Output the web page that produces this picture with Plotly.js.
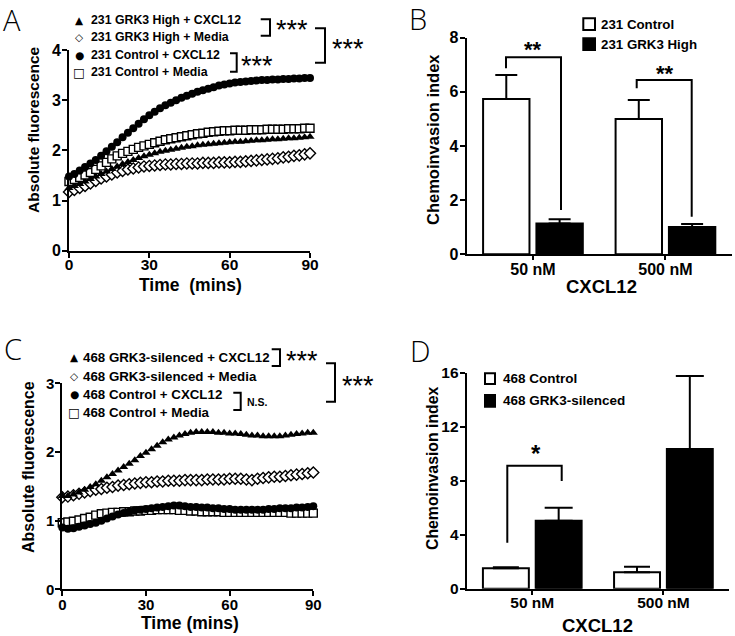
<!DOCTYPE html>
<html><head><meta charset="utf-8">
<script src="https://cdn.plot.ly/plotly-3.0.1.min.js"></script>
<style>html,body{margin:0;padding:0;background:#fff}#chart{width:735px;height:636px}</style>
</head><body><div id="chart"></div>
<script>
// ---------- DATA ----------
const timeMins = [0,2,4,6,8,10,12,14,16,18,20,22,24,26,28,30,32,34,36,38,40,42,44,46,48,50,52,54,56,58,60,62,64,66,68,70,72,74,76,78,80,82,84,86,88,90];

// Panel A (231 cells)
const a231GrkCxcl = [1.25,1.29,1.33,1.38,1.43,1.48,1.53,1.58,1.63,1.68,1.73,1.77,1.81,1.85,1.88,1.91,1.94,1.97,1.99,2.01,2.03,2.05,2.07,2.08,2.10,2.11,2.12,2.13,2.14,2.15,2.16,2.17,2.17,2.18,2.19,2.20,2.20,2.21,2.22,2.22,2.23,2.24,2.24,2.25,2.26,2.27];
const a231GrkMedia = [1.17,1.21,1.25,1.29,1.34,1.39,1.44,1.48,1.52,1.56,1.59,1.62,1.64,1.66,1.68,1.69,1.70,1.71,1.72,1.72,1.73,1.73,1.74,1.74,1.74,1.75,1.75,1.75,1.76,1.76,1.76,1.77,1.77,1.78,1.79,1.80,1.81,1.82,1.83,1.84,1.86,1.87,1.89,1.90,1.92,1.94];
const a231CtrlCxcl = [1.48,1.53,1.60,1.67,1.74,1.81,1.89,1.98,2.07,2.16,2.26,2.35,2.44,2.53,2.62,2.70,2.77,2.84,2.90,2.95,3.00,3.05,3.09,3.13,3.17,3.20,3.23,3.26,3.29,3.31,3.33,3.35,3.36,3.37,3.38,3.39,3.40,3.40,3.41,3.41,3.42,3.42,3.43,3.43,3.44,3.44];
const a231CtrlMedia = [1.38,1.42,1.46,1.51,1.56,1.62,1.69,1.76,1.83,1.89,1.94,1.98,2.02,2.06,2.09,2.12,2.15,2.18,2.21,2.23,2.25,2.27,2.29,2.31,2.33,2.34,2.36,2.37,2.38,2.39,2.39,2.40,2.40,2.40,2.41,2.41,2.41,2.42,2.42,2.42,2.42,2.43,2.43,2.43,2.44,2.44];

// Panel C (468 cells)
const c468SilCxcl = [1.36,1.36,1.38,1.41,1.45,1.49,1.53,1.58,1.63,1.68,1.73,1.78,1.83,1.88,1.94,1.99,2.04,2.09,2.14,2.18,2.21,2.24,2.26,2.28,2.29,2.29,2.29,2.29,2.28,2.28,2.27,2.27,2.26,2.25,2.24,2.24,2.23,2.23,2.23,2.23,2.24,2.25,2.26,2.27,2.28,2.28];
const c468SilMedia = [1.34,1.35,1.37,1.39,1.41,1.43,1.45,1.46,1.48,1.49,1.51,1.52,1.53,1.54,1.55,1.56,1.56,1.57,1.57,1.58,1.58,1.58,1.59,1.59,1.59,1.59,1.60,1.60,1.60,1.60,1.61,1.61,1.61,1.60,1.59,1.61,1.62,1.63,1.64,1.64,1.65,1.66,1.67,1.68,1.69,1.70];
const c468CtrlCxcl = [0.90,0.88,0.89,0.91,0.93,0.95,0.97,1.00,1.03,1.06,1.09,1.11,1.13,1.15,1.16,1.17,1.18,1.19,1.20,1.21,1.22,1.22,1.21,1.20,1.20,1.19,1.19,1.18,1.18,1.17,1.17,1.16,1.16,1.16,1.16,1.16,1.16,1.17,1.17,1.18,1.18,1.18,1.19,1.19,1.20,1.21];
const c468CtrlMedia = [0.97,0.98,0.99,1.01,1.03,1.05,1.08,1.10,1.11,1.12,1.12,1.13,1.13,1.14,1.14,1.15,1.15,1.16,1.16,1.16,1.16,1.15,1.15,1.14,1.14,1.13,1.13,1.13,1.13,1.12,1.12,1.12,1.12,1.12,1.12,1.12,1.12,1.12,1.12,1.12,1.12,1.11,1.11,1.11,1.11,1.11];

// Panels B and D (bars)
const doseLabels = ['50 nM', '500 nM'];
const b231Control = [5.74, 5.00];
const b231ControlErr = [0.88, 0.70];
const b231GrkHigh = [1.14, 1.01];
const b231GrkHighErr = [0.15, 0.11];
const d468Control = [1.51, 1.21];
const d468ControlErr = [0.07, 0.42];
const d468Silenced = [5.04, 10.35];
const d468SilencedErr = [0.96, 5.40];

// Tick labels
const timeTicks = [0, 30, 60, 90];

// ---------- HELPERS ----------
const W = 735, H = 636;
const fx = p => p / W;
const fy = p => 1 - p / H;
const FONT = 'Liberation Sans, Arial, Helvetica, sans-serif';
const SYM = 'DejaVu Sans, sans-serif';
const BLACK = '#000';

function line(x, y, opts) {
  return Object.assign({type: 'scatter', mode: 'markers', x: x, y: y, cliponaxis: false,
    showlegend: false, hoverinfo: 'skip'}, opts);
}
const mTri = {symbol: 'triangle-up', size: 8, color: BLACK, line: {width: 0}};
const mDia = {symbol: 'diamond', size: 8.5, color: '#fff', line: {color: BLACK, width: 1.4}};
const mCir = {symbol: 'circle', size: 8, color: BLACK, line: {width: 0}};
const mSq  = {symbol: 'square', size: 8, color: '#fff', line: {color: BLACK, width: 1.4}};

function errBar(arr, w) {
  return {type: 'data', array: arr, arrayminus: arr.map(() => 0), symmetric: false,
    color: BLACK, thickness: 2, width: w, visible: true};
}

const traces = [
  // Panel A
  line(timeMins, a231GrkMedia, {name: '231 GRK3 High + Media', marker: mDia, xaxis: 'x', yaxis: 'y'}),
  line(timeMins, a231GrkCxcl, {name: '231 GRK3 High + CXCL12', marker: mTri, xaxis: 'x', yaxis: 'y'}),
  line(timeMins, a231CtrlMedia, {name: '231 Control + Media', marker: mSq, xaxis: 'x', yaxis: 'y'}),
  line(timeMins, a231CtrlCxcl, {name: '231 Control + CXCL12', marker: mCir, xaxis: 'x', yaxis: 'y'}),
  // Panel C
  line(timeMins, c468SilMedia, {name: '468 GRK3-silenced + Media', marker: mDia, xaxis: 'x3', yaxis: 'y3'}),
  line(timeMins, c468SilCxcl, {name: '468 GRK3-silenced + CXCL12', marker: mTri, xaxis: 'x3', yaxis: 'y3'}),
  line(timeMins, c468CtrlMedia, {name: '468 Control + Media', marker: mSq, xaxis: 'x3', yaxis: 'y3'}),
  line(timeMins, c468CtrlCxcl, {name: '468 Control + CXCL12', marker: mCir, xaxis: 'x3', yaxis: 'y3'}),
  // Panel B
  {type: 'bar', name: '231 Control', x: doseLabels, y: b231Control, xaxis: 'x2', yaxis: 'y2',
   marker: {color: '#fff', line: {color: BLACK, width: 2}}, error_y: errBar(b231ControlErr, 11),
   showlegend: false, hoverinfo: 'skip', cliponaxis: false},
  {type: 'bar', name: '231 GRK3 High', x: doseLabels, y: b231GrkHigh, xaxis: 'x2', yaxis: 'y2',
   marker: {color: BLACK, line: {color: BLACK, width: 2}}, error_y: errBar(b231GrkHighErr, 11),
   showlegend: false, hoverinfo: 'skip', cliponaxis: false},
  // Panel D
  {type: 'bar', name: '468 Control', x: doseLabels, y: d468Control, xaxis: 'x4', yaxis: 'y4',
   marker: {color: '#fff', line: {color: BLACK, width: 2}}, error_y: errBar(d468ControlErr, 13),
   showlegend: false, hoverinfo: 'skip', cliponaxis: false},
  {type: 'bar', name: '468 GRK3-silenced', x: doseLabels, y: d468Silenced, xaxis: 'x4', yaxis: 'y4',
   marker: {color: BLACK, line: {color: BLACK, width: 2}}, error_y: errBar(d468SilencedErr, 14),
   showlegend: false, hoverinfo: 'skip', cliponaxis: false}
];

function axis(domain, anchor, extra, fs) {
  return Object.assign({domain: domain, anchor: anchor, showline: true, linewidth: 2, linecolor: BLACK,
    ticks: 'outside', ticklen: 5, tickwidth: 2, tickcolor: BLACK, showgrid: false, zeroline: false,
    fixedrange: true, tickfont: {family: FONT, size: fs, color: BLACK, weight: 'bold'}}, extra);
}

const layout = {
  width: W, height: H, margin: {l: 0, r: 0, t: 0, b: 0}, showlegend: false,
  paper_bgcolor: '#fff', plot_bgcolor: 'rgba(0,0,0,0)',
  barmode: 'group', bargap: 0.195, bargroupgap: 0.13,
  font: {family: FONT, color: BLACK},
  xaxis:  axis([fx(69), fx(310)], 'y', {range: [0, 90], tickvals: timeTicks, ticklabelstandoff: -6}, 15.5),
  yaxis:  axis([fy(250.7), fy(50)], 'x', {range: [0, 4], dtick: 1, ticklabelstandoff: -2}, 16),
  xaxis2: axis([fx(466.7), fx(731.7)], 'y2', {type: 'category', range: [-0.5, 1.5], ticklen: 4, ticklabelstandoff: -5}, 16),
  yaxis2: axis([fy(254.3), fy(37.7)], 'x2', {range: [0, 8], dtick: 2, ticklabelstandoff: -2}, 16),
  xaxis3: axis([fx(62.3), fx(313.3)], 'y3', {range: [0, 90], tickvals: timeTicks, ticklabelstandoff: -4}, 15),
  yaxis3: axis([fy(589.3), fy(383.3)], 'x3', {range: [0, 3], dtick: 1, ticklabelstandoff: -2}, 15),
  xaxis4: axis([fx(466.7), fx(729)], 'y4', {type: 'category', range: [-0.5, 1.5], ticklen: 4, ticklabelstandoff: -5}, 15.5),
  yaxis4: axis([fy(588.7), fy(372.7)], 'x4', {range: [0, 16], dtick: 4, ticklabelstandoff: -2}, 15.5),
  shapes: [],
  annotations: []
};

function ann(text, x, y, size, extra) {
  layout.annotations.push(Object.assign({xref: 'paper', yref: 'paper', x: fx(x), y: fy(y), text: text,
    showarrow: false, xanchor: 'center', yanchor: 'middle',
    font: {family: FONT, size: size, color: BLACK, weight: 'bold'}}, extra || {}));
}
function pathShape(d) {
  layout.shapes.push({type: 'path', xref: 'paper', yref: 'paper', path: d,
    line: {color: BLACK, width: 2}, fillcolor: 'rgba(0,0,0,0)'});
}
function P(x, y) { return fx(x) + ',' + fy(y); }
// right-facing bracket "]"
function bracketR(x0, x1, yTop, yBot) {
  pathShape('M' + P(x0, yTop) + ' L' + P(x1, yTop) + ' L' + P(x1, yBot) + ' L' + P(x0, yBot));
}
// over-bar bracket
function bracketTop(xL, yLb, yTop, xR, yRb) {
  pathShape('M' + P(xL, yLb) + ' L' + P(xL, yTop) + ' L' + P(xR, yTop) + ' L' + P(xR, yRb));
}
function swatch(x0, y0, x1, y1, fill) {
  layout.shapes.push({type: 'rect', xref: 'paper', yref: 'paper', x0: fx(x0), x1: fx(x1), y0: fy(y1), y1: fy(y0),
    line: {color: BLACK, width: 2}, fillcolor: fill});
}

// Panel letters
const letterFont = {family: 'Open Sans, DejaVu Sans, sans-serif', size: 29, color: BLACK, weight: 300};
ann('A', 11.7, 20, 29, {font: letterFont});
ann('B', 418.3, 18.3, 29, {font: letterFont});
ann('C', 13.3, 348, 29, {font: letterFont});
ann('D', 419.5, 350.8, 29, {font: letterFont});

// Axis titles
ann('Absolute fluorescence', 33, 130, 15.5, {textangle: -90});
ann('Time  (mins)', 190, 284.5, 17.5);
ann('Chemoinvasion index', 433, 140, 16.5, {textangle: -90});
ann('CXCL12', 601.7, 286, 18.5);
ann('Absolute fluorescence', 28.3, 466.7, 16, {textangle: -90});
ann('Time (mins)', 190, 623, 17.5);
ann('Chemoinvasion index', 432, 469, 15.8, {textangle: -90});
ann('CXCL12', 597, 625.5, 18.5);

// Legend A
const legA = [['▲', '231 GRK3 High + CXCL12', 20], ['◇', '231 GRK3 High + Media', 37.3],
              ['●', '231 Control + CXCL12', 55], ['□', '231 Control + Media', 72.5]];
legA.forEach(([g, t, y]) => {
  ann(g, 79.3, y, 10, {font: {family: SYM, size: g === '□' ? 12.5 : 10.5, color: BLACK}});
  ann(t, 89.3, y, 12.3, {xanchor: 'left'});
});
// Legend C
const legC = [['▲', '468 GRK3-silenced + CXCL12', 357.3], ['◇', '468 GRK3-silenced + Media', 376],
              ['●', '468 Control + CXCL12', 394], ['□', '468 Control + Media', 412.3]];
legC.forEach(([g, t, y]) => {
  ann(g, 74.2, y, 10, {font: {family: SYM, size: g === '□' ? 12.5 : 10.5, color: BLACK}});
  ann(t, 80.7, y, 13.3, {xanchor: 'left'});
});
// Legend B
swatch(583.3, 18.3, 595, 30, '#fff');
swatch(583.3, 38.3, 595, 50, BLACK);
ann('231 Control', 599.3, 24.2, 13.3, {xanchor: 'left'});
ann('231 GRK3 High', 599.3, 44.2, 13.3, {xanchor: 'left'});
// Legend D
swatch(485, 373.3, 495, 384, '#fff');
swatch(485, 395, 495, 406.7, BLACK);
ann('468 Control', 500.7, 378.7, 13.5, {xanchor: 'left'});
ann('468 GRK3-silenced', 500.7, 400.8, 13.5, {xanchor: 'left'});

// Significance brackets A
const starFont = {family: FONT, size: 27, color: BLACK, weight: 'normal'};
bracketR(260.7, 270, 19.3, 35.7);
ann('***', 291.7, 30, 27, {font: starFont});
bracketR(315, 325, 28.3, 62.7);
ann('***', 347.5, 49, 27, {font: starFont});
bracketR(230, 236.7, 53.3, 71.7);
ann('***', 256.7, 65.6, 27, {font: starFont});
// Significance brackets C
bracketR(271.7, 280, 349.3, 366);
ann('***', 301.7, 360.6, 27, {font: starFont});
bracketR(326, 335, 363.3, 401.7);
ann('***', 357.5, 386, 27, {font: starFont});
bracketR(233.3, 240.7, 392.7, 410);
ann('N.S.', 257, 401.7, 10.5);
// Bar brackets B
bracketTop(506, 68.3, 57.3, 561, 210);
ann('**', 533, 49, 22);
bracketTop(636.7, 88.3, 80, 691.7, 216.7);
ann('**', 665, 74, 22);
// Bar bracket D
bracketTop(507.3, 542.7, 465.7, 561.7, 481);
ann('*', 535.7, 453, 24);

Plotly.newPlot('chart', traces, layout, {displayModeBar: false, staticPlot: true});
</script>
</body></html>
